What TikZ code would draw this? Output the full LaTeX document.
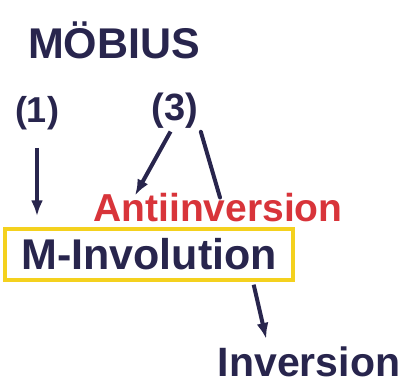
\documentclass[tikz,border=0pt]{standalone}
\usepackage{fontspec}
\setmainfont{Liberation Sans}
\usetikzlibrary{arrows.meta}
\definecolor{navy}{HTML}{28254D}
\definecolor{redink}{HTML}{D8343A}
\definecolor{yellowink}{HTML}{F4D11E}
\tikzset{
  ink/.style={text=navy, inner sep=0pt, font=\bfseries},
  arr/.style={draw=navy, line width=4pt, -{Latex[length=16pt,width=12pt]}},
  stroke/.style={draw=navy, line width=4pt, line cap=round},
}
\begin{document}
\begin{tikzpicture}[x=1pt,y=-1pt]
\useasboundingbox[fill=white] (0,0) rectangle (403,385);
\node[ink, font=\fontsize{43}{48}\selectfont\bfseries] (mob) at (114,40) {MÖBIUS};
\node[ink, font=\fontsize{36}{40}\selectfont\bfseries] (n1) at (37,113) {(1)};
\node[ink, font=\fontsize{38}{42}\selectfont\bfseries] (n3) at (175,111) {(3)};
\node[text=redink, inner sep=0pt, font=\fontsize{39}{44}\selectfont\bfseries] (anti) at (218,208) {Antiinversion};
\node[ink, draw=yellowink, line width=3.5pt, minimum width=288pt, minimum height=51pt,
      font=\fontsize{43}{48}\selectfont\bfseries] (box) at (149,254.5) {M-Involution};
\node[ink, font=\fontsize{41}{46}\selectfont\bfseries] (inv) at (309,362) {Inversion};
\draw[arr, shorten <=18pt, shorten >=11pt] (n1.south) -- (n1.south |- box.north);
\draw[arr, shorten <=3pt] ([xshift=-3pt]n3.south) -- ([xshift=-83pt,yshift=-2pt]anti.north);
\draw[stroke, shorten <=3pt] ([xshift=25pt]n3.south) -- ([xshift=2pt,yshift=-4pt]anti.north);
\draw[arr, shorten <=3pt, shorten >=8pt] ([xshift=104pt]box.south) -- ([xshift=-41pt]inv.north);
\end{tikzpicture}
\end{document}
